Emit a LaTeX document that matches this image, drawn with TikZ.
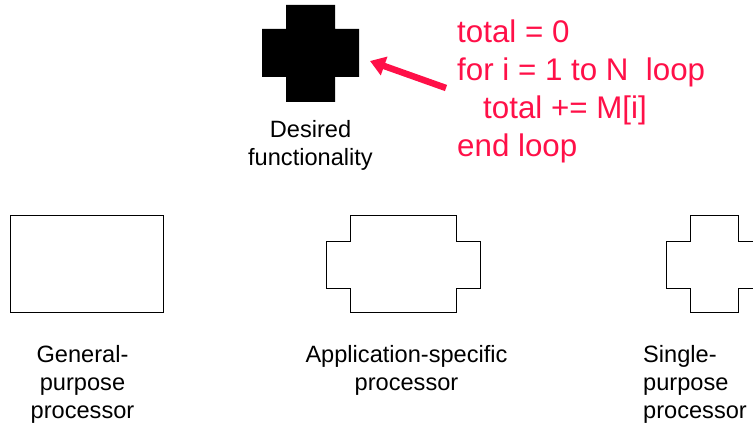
\documentclass[tikz,border=0pt]{standalone}
\usepackage{fontspec}
\setmainfont{Liberation Sans}
\usetikzlibrary{arrows.meta}
\definecolor{codered}{RGB}{255,16,72}
\begin{document}
\begin{tikzpicture}[x=1pt,y=-1pt,
  lbl/.style={font=\fontsize{23.6}{28}\selectfont, inner sep=0pt, align=center, anchor=base},
  lblleft/.style={font=\fontsize{23.6}{28}\selectfont, inner sep=0pt, align=left, anchor=base west},
  code/.style={font=\fontsize{31.3}{38.3}\selectfont, text=codered, inner sep=0pt, align=left, anchor=base west},
  outline/.style={draw=black, line width=1pt},
  pointer/.style={draw=codered, line width=6.5pt, -{Triangle[length=15pt,width=19pt]}}
]
\useasboundingbox (0,0) rectangle (753,425);

% desired functionality (black cross)
\fill[black] (286,5) -- (335,5) -- (335,29) -- (359,29) -- (359,77) -- (335,77) -- (335,102)
  -- (286,102) -- (286,77) -- (262,77) -- (262,29) -- (286,29) -- cycle;
\coordinate (tip) at (370,61);
\coordinate (tail) at (446,88);
\node[lbl] (desired) at (310.5,166) {Desired\\functionality};

% code (anchor = baseline of last line)
\node[code] (codetext) at (457,157) {total = 0\\for i = 1 to N\ \ loop\\\hspace*{26pt}total += M[i]\\end loop};
\draw[pointer] (tail) -- (tip);

% general-purpose processor
\draw[outline] (10,216) rectangle (163,312);
\node[lbl] (gpp) at (82.5,418.5) {General-\\purpose\\processor};

% application-specific processor
\draw[outline] (350,216) -- (456,216) -- (456,241) -- (480,241) -- (480,288) -- (456,288) -- (456,312)
  -- (350,312) -- (350,288) -- (326,288) -- (326,241) -- (350,241) -- cycle;
\node[lbl] (asip) at (406.5,390) {Application-specific\\processor};

% single-purpose processor
\draw[outline] (690,216) -- (738,216) -- (738,241) -- (762,241) -- (762,288) -- (738,288) -- (738,312)
  -- (690,312) -- (690,288) -- (666,288) -- (666,241) -- (690,241) -- cycle;
\node[lblleft] (spp) at (643,418.5) {Single-\\purpose\\processor};
\end{tikzpicture}
\end{document}
